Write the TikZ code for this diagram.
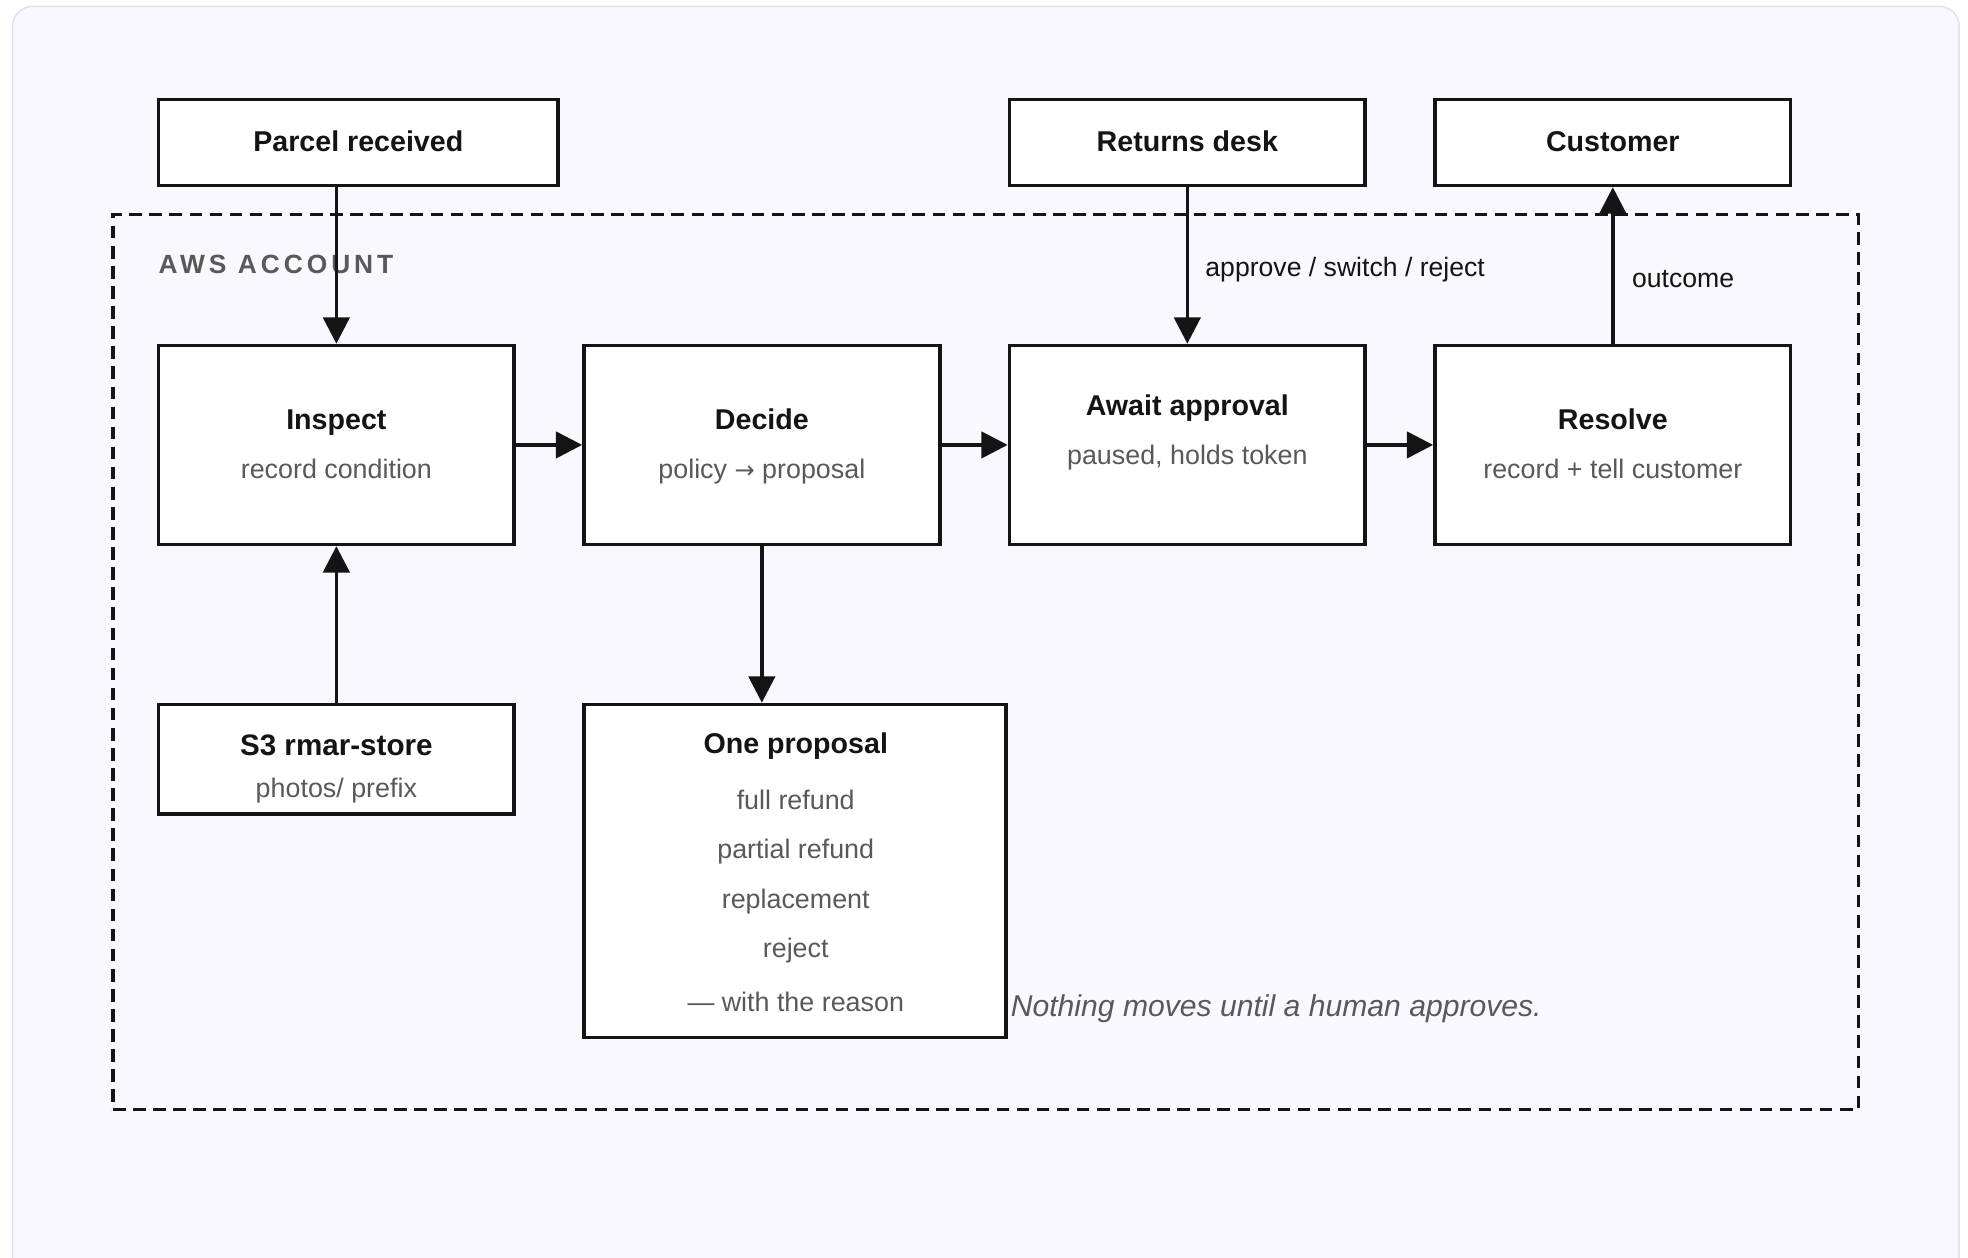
\documentclass[tikz,border=0pt]{standalone}
\usepackage{fontspec}
\setmainfont{Liberation Sans}
\newfontfamily\arrowfont{DejaVu Sans}
\usetikzlibrary{arrows.meta}

\definecolor{ink}{HTML}{141414}
\definecolor{muted}{HTML}{595959}
\definecolor{cardfill}{RGB}{248,248,254}
\definecolor{cardline}{RGB}{226,226,236}

\begin{document}
\begin{tikzpicture}[x=0.5pt, y=-0.5pt,
  box/.style={draw=ink, line width=1.45pt, fill=white, inner sep=0pt},
  actor/.style={box, minimum width=141.7pt, minimum height=34.2pt},
  stage/.style={box, minimum width=141.7pt, minimum height=79.2pt},
  flow/.style={draw=ink, line width=1.4pt, -{Triangle[length=10.5pt, width=10.5pt]}},
  frame/.style={draw=ink, line width=1.3pt, dash pattern=on 5pt off 3pt, inner sep=0pt},
  title/.style={anchor=base, inner sep=0pt, text=ink, font=\fontsize{11.4}{13}\selectfont\bfseries},
  sub/.style={anchor=base, inner sep=0pt, text=muted, font=\fontsize{10.7}{13}\selectfont},
  edgelabel/.style={anchor=base west, inner sep=0pt, text=ink, font=\fontsize{10.6}{13}\selectfont},
]
\useasboundingbox (0,0) rectangle (1568,1002);
\fill[white] (0,0) rectangle (1568,1002);

% card behind everything
\path[fill=cardfill, draw=cardline, line width=0.6pt, rounded corners=8pt]
  (10,5) rectangle (1561,1040);

% account boundary
\node[frame, minimum width=695.5pt, minimum height=356.5pt] (account) at (785.5,527.5) {};
\node[anchor=base west, inner sep=0pt, text=muted,
      font=\fontsize{10.5}{12}\selectfont\bfseries\addfontfeature{LetterSpace=15}]
  (account-label) at (126,218) {AWS ACCOUNT};

% external actors
\node[actor, minimum width=159.2pt] (parcel) at (285.5,113.5) {};
\node[title] (parcel-t) at (285.5,121) {Parcel received};
\node[actor] (desk) at (946,113.5) {};
\node[title] (desk-t) at (946,121) {Returns desk};
\node[actor] (customer) at (1285,113.5) {};
\node[title] (customer-t) at (1285,121) {Customer};

% main stages
\node[stage] (inspect) at (268,354.5) {};
\node[title] (inspect-t) at (268,342) {Inspect};
\node[sub] (inspect-s) at (268,381) {record condition};

\node[stage] (decide) at (607,354.5) {};
\node[title] (decide-t) at (607,342) {Decide};
\node[sub] (decide-s) at (607,381) {policy {\arrowfont\fontsize{9.6}{13}\selectfont →} proposal};

\node[stage] (await) at (946,354.5) {};
\node[title] (await-t) at (946,331) {Await approval};
\node[sub] (await-s) at (946,370) {paused, holds token};

\node[stage] (resolve) at (1285,354.5) {};
\node[title] (resolve-t) at (1285,342) {Resolve};
\node[sub] (resolve-s) at (1285,381) {record + tell customer};

% photo store
\node[box, minimum width=141.7pt, minimum height=43.7pt] (s3) at (268,605) {};
\node[title, font=\fontsize{11.8}{13}\selectfont\bfseries] (s3-t) at (268,602) {S3 rmar-store};
\node[sub] (s3-s) at (268,635) {photos/ prefix};

% proposal outcomes
\node[box, minimum width=168.2pt, minimum height=132.7pt] (proposal) at (633.5,694) {};
\node[title] (proposal-t) at (634,600) {One proposal};
\node[sub] (opt1) at (634,645) {full refund};
\node[sub] (opt2) at (634,684) {partial refund};
\node[sub] (opt3) at (634,724) {replacement};
\node[sub] (opt4) at (634,763) {reject};
\node[sub] (opt5) at (634,806) {— with the reason};

\node[anchor=base west, inner sep=0pt, text=muted, font=\fontsize{12}{14}\selectfont\itshape]
  (note) at (805,810) {Nothing moves until a human approves.};

% connectors
\draw[flow] (parcel.south -| inspect.north) -- (inspect.north);
\draw[flow] (inspect.east) -- (decide.west);
\draw[flow] (decide.east) -- (await.west);
\draw[flow] (await.east) -- (resolve.west);
\draw[flow] (s3.north) -- (inspect.south);
\draw[flow] (decide.south) -- (decide.south |- proposal.north);
\draw[flow] (desk.south) -- (await.north);
\draw[flow] (resolve.north) -- (customer.south);

\node[edgelabel] (approve-l) at (960,220) {approve / switch / reject};
\node[edgelabel] (outcome-l) at (1300,229) {outcome};
\end{tikzpicture}
\end{document}
